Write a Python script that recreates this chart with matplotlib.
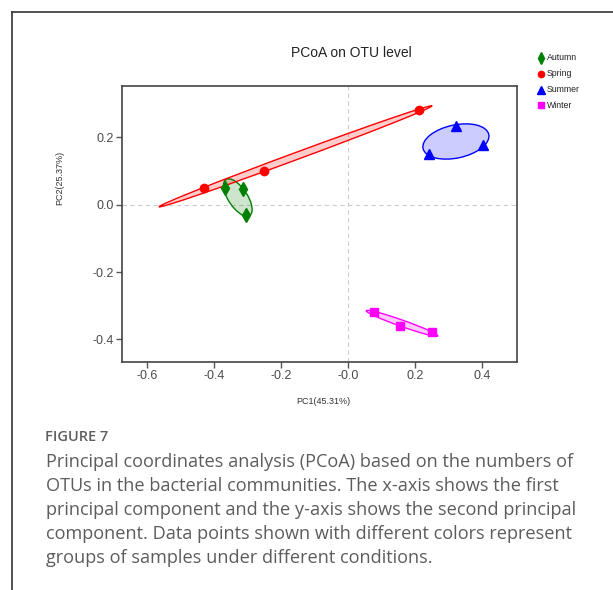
import numpy as np
import matplotlib
matplotlib.use("Agg")
import matplotlib.pyplot as plt
from matplotlib.patches import Ellipse
from matplotlib.lines import Line2D

# PCoA coordinates
groups = ["Autumn", "Spring", "Summer", "Winter"]
autumn_pc1 = [-0.368, -0.313, -0.304]
autumn_pc2 = [0.049, 0.045, -0.031]
spring_pc1 = [-0.430, -0.249, 0.211]
spring_pc2 = [0.050, 0.099, 0.281]
summer_pc1 = [0.243, 0.322, 0.403]
summer_pc2 = [0.151, 0.234, 0.177]
winter_pc1 = [0.078, 0.157, 0.251]
winter_pc2 = [-0.318, -0.360, -0.379]

x_ticks = [-0.6, -0.4, -0.2, 0.0, 0.2, 0.4]
x_tick_labels = ["-0.6", "-0.4", "-0.2", "-0.0", "0.2", "0.4"]
y_ticks = [-0.4, -0.2, 0.0, 0.2]
y_tick_labels = ["-0.4", "-0.2", "0.0", "0.2"]

colors = {"Autumn": "#008000", "Spring": "#ff0000", "Summer": "#0000ff", "Winter": "#ff00ff"}
markers = {"Autumn": "d", "Spring": "o", "Summer": "^", "Winter": "s"}
msizes = {"Autumn": 7.5, "Spring": 6, "Summer": 7, "Winter": 5.5}

data = {
    "Autumn": (autumn_pc1, autumn_pc2),
    "Spring": (spring_pc1, spring_pc2),
    "Summer": (summer_pc1, summer_pc2),
    "Winter": (winter_pc1, winter_pc2),
}

caption_lines = [
    "Principal coordinates analysis (PCoA) based on the numbers of",
    "OTUs in the bacterial communities. The x-axis shows the first",
    "principal component and the y-axis shows the second principal",
    "component. Data points shown with different colors represent",
    "groups of samples under different conditions.",
]

W, H = 613, 590
plt.rcParams["font.family"] = ["Liberation Sans", "DejaVu Sans"]


def conf_ellipse(x, y, color, ax, scale=1.51):
    """Covariance ellipse around a group of points."""
    pts = np.column_stack([x, y])
    cov = np.cov(pts.T, bias=True)
    vals, vecs = np.linalg.eigh(cov)
    order = vals.argsort()[::-1]
    vals, vecs = vals[order], vecs[:, order]
    angle = np.degrees(np.arctan2(vecs[1, 0], vecs[0, 0]))
    w, h = 2 * scale * np.sqrt(np.maximum(vals, 1e-6))
    ax.add_patch(Ellipse(pts.mean(axis=0), w, h, angle=angle,
                         facecolor=color, alpha=0.2, edgecolor="none", zorder=2))
    ax.add_patch(Ellipse(pts.mean(axis=0), w, h, angle=angle,
                         facecolor="none", edgecolor=color, lw=1.0, zorder=3))


fig = plt.figure(figsize=(W / 100, H / 100), dpi=100)

# outer frame of the figure panel
fig.add_artist(Line2D([12 / W, 12 / W], [0, 1 - 12 / H], color="#333333", lw=1.2))
fig.add_artist(Line2D([12 / W, 1], [1 - 12 / H, 1 - 12 / H], color="#333333", lw=1.2))

ax = fig.add_axes([122 / W, 1 - 362 / H, 395 / W, 276 / H])
ax.axvline(0, color="#cccccc", ls=(0, (4, 3)), lw=0.8, zorder=1)
ax.axhline(0, color="#cccccc", ls=(0, (4, 3)), lw=0.8, zorder=1)

for g in groups:
    x, y = data[g]
    conf_ellipse(x, y, colors[g], ax)
    ax.plot(x, y, ls="none", marker=markers[g], color=colors[g],
            markersize=msizes[g], zorder=4)

ax.set_xlim(-0.674, 0.505)
ax.set_ylim(-0.467, 0.352)
ax.set_xticks(x_ticks)
ax.set_xticklabels(x_tick_labels)
ax.set_yticks(y_ticks)
ax.set_yticklabels(y_tick_labels)
ax.tick_params(direction="out", length=4, width=1, color="#555555",
               labelcolor="#4a4a4a", labelsize=9, pad=2)
for s in ax.spines.values():
    s.set_color("#444444")
    s.set_linewidth(1.2)

fig.text(351 / W, 1 - 53 / H, "PCoA on OTU level", ha="center", va="center",
         fontsize=10, color="#222222")
fig.text(60 / W, 1 - 178 / H, "PC2(25.37%)", ha="center", va="center",
         rotation=90, fontsize=6.5, color="#333333")
fig.text(323 / W, 1 - 402 / H, "PC1(45.31%)", ha="center", va="center",
         fontsize=6.5, color="#333333")

# legend
for i, g in enumerate(groups):
    yy = 1 - (58 + 15.8 * i) / H
    fig.add_artist(Line2D([541 / W], [yy], marker=markers[g], color=colors[g],
                          markersize=msizes[g] * 0.75, ls="none"))
    fig.text(547 / W, yy, g, ha="left", va="center", fontsize=6.3, color="#222222")

# caption
fig.text(45 / W, 1 - 437 / H, "FIGURE 7", ha="left", va="center", fontsize=10.5,
         color="#5f5f5f", family=["Open Sans", "DejaVu Sans"], weight="semibold")
for i, line in enumerate(caption_lines):
    fig.text(46 / W, 1 - (462 + 24 * i) / H, line, ha="left", va="center",
             fontsize=13.1, color="#5c5c5c", family=["Open Sans", "DejaVu Sans"])

fig.savefig("out.png", dpi=100)
